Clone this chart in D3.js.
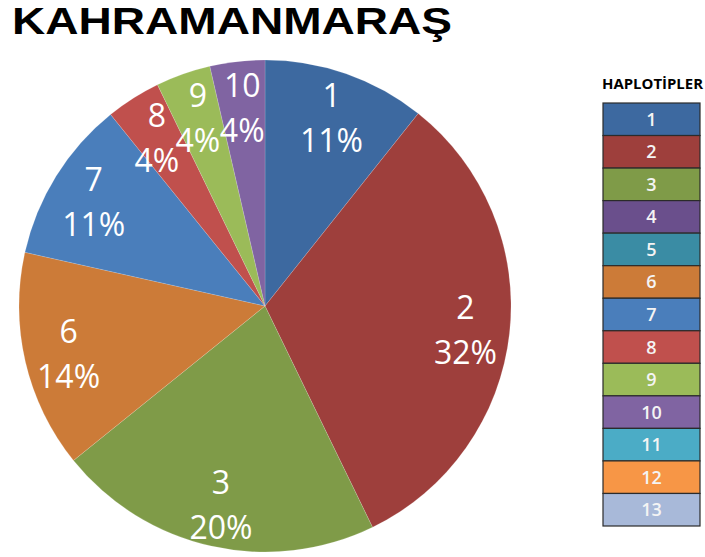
<!DOCTYPE html>
<html>
<head>
<meta charset="utf-8">
<script src="https://cdn.jsdelivr.net/npm/d3@7"></script>
<style>
  html, body { margin: 0; padding: 0; background: #fff; }
  svg { display: block; }
</style>
</head>
<body>
<div id="chart"></div>
<script>
// haplotype categories, slice shares and printed labels
const haplotypes = ['1', '2', '3', '4', '5', '6', '7', '8', '9', '10', '11', '12', '13'];
const shares = [10.7, 32.1, 21.4, 0, 0, 14.3, 10.7, 3.6, 3.6, 3.6, 0, 0, 0];
const percentLabels = ['11%', '32%', '20%', '', '', '14%', '11%', '4%', '4%', '4%', '', '', ''];
const colors = [
  '#3d69a0', '#9e3f3c', '#7f9b48', '#6a4f8c', '#3a8ca4', '#cc7b38', '#4a7ebb',
  '#c0504d', '#9bbb59', '#8064a2', '#4bacc6', '#f79646', '#a8b9d9',
];

const svgWidth = 705,
  svgHeight = 557;

const svg = d3
  .select('#chart')
  .append('svg')
  .attr('width', svgWidth)
  .attr('height', svgHeight);

// title (font with a small ascent so it stays inside the page)
svg
  .append('text')
  .attr('x', 12)
  .attr('y', 34)
  .attr('textLength', 440)
  .attr('lengthAdjust', 'spacingAndGlyphs')
  .style('font-family', '"Liberation Sans", Arial, sans-serif')
  .style('font-weight', 'bold')
  .style('font-size', '37px')
  .style('fill', '#000')
  .text('KAHRAMANMARAŞ');

// pie
const cx = 265,
  cy = 306,
  radius = 246;

const data = haplotypes.map((h, i) => ({
  name: h,
  value: shares[i],
  label: percentLabels[i],
  color: colors[i],
}));

const pie = d3
  .pie()
  .sort(null)
  .value((d) => d.value);

const arc = d3.arc().innerRadius(0).outerRadius(radius);
const labelArc = d3
  .arc()
  .innerRadius(radius * 0.82)
  .outerRadius(radius * 0.82);

const g = svg.append('g').attr('transform', `translate(${cx},${cy})`);

const arcs = pie(data).filter((d) => d.data.value > 0);

g.selectAll('path')
  .data(arcs)
  .enter()
  .append('path')
  .attr('d', arc)
  .attr('fill', (d) => d.data.color)
  .attr('stroke', 'rgba(255,255,255,0.25)')
  .attr('stroke-width', 0.6);

// slice labels: name on first line, percentage on second
const labels = g
  .selectAll('.slice-label')
  .data(arcs)
  .enter()
  .append('text')
  .attr('class', 'slice-label')
  .attr('transform', (d) => `translate(${labelArc.centroid(d)})`)
  .attr('text-anchor', 'middle')
  .style('font-family', '"Open Sans", sans-serif')
  .style('font-size', '32px')
  .style('fill', '#fff');

labels.append('tspan').attr('x', 0).attr('y', -9).text((d) => d.data.name);
labels.append('tspan').attr('x', 0).attr('y', 36).text((d) => d.data.label);

// legend
const legendX = 603,
  legendW = 97;

const y = d3
  .scaleBand()
  .domain(haplotypes)
  .range([103, 526])
  .padding(0);

svg
  .append('text')
  .attr('x', 602)
  .attr('y', 89)
  .attr('textLength', 101)
  .attr('lengthAdjust', 'spacingAndGlyphs')
  .style('font-family', '"Open Sans", sans-serif')
  .style('font-weight', 'bold')
  .style('font-size', '14px')
  .style('fill', '#000')
  .text('HAPLOTİPLER');

const legend = svg
  .selectAll('.legend-item')
  .data(data)
  .enter()
  .append('g')
  .attr('class', 'legend-item');

legend
  .append('rect')
  .attr('x', legendX)
  .attr('y', (d) => y(d.name))
  .attr('width', legendW)
  .attr('height', y.bandwidth())
  .attr('fill', (d) => d.color)
  .attr('stroke', '#2b2b2b')
  .attr('stroke-width', 1.2);

legend
  .append('text')
  .attr('x', legendX + legendW / 2)
  .attr('y', (d) => y(d.name) + y.bandwidth() / 2)
  .attr('dy', '0.36em')
  .attr('text-anchor', 'middle')
  .style('font-family', '"Open Sans", sans-serif')
  .style('font-weight', '600')
  .style('font-size', '18px')
  .style('fill', '#f4f4f4')
  .text((d) => d.name);
</script>
</body>
</html>
